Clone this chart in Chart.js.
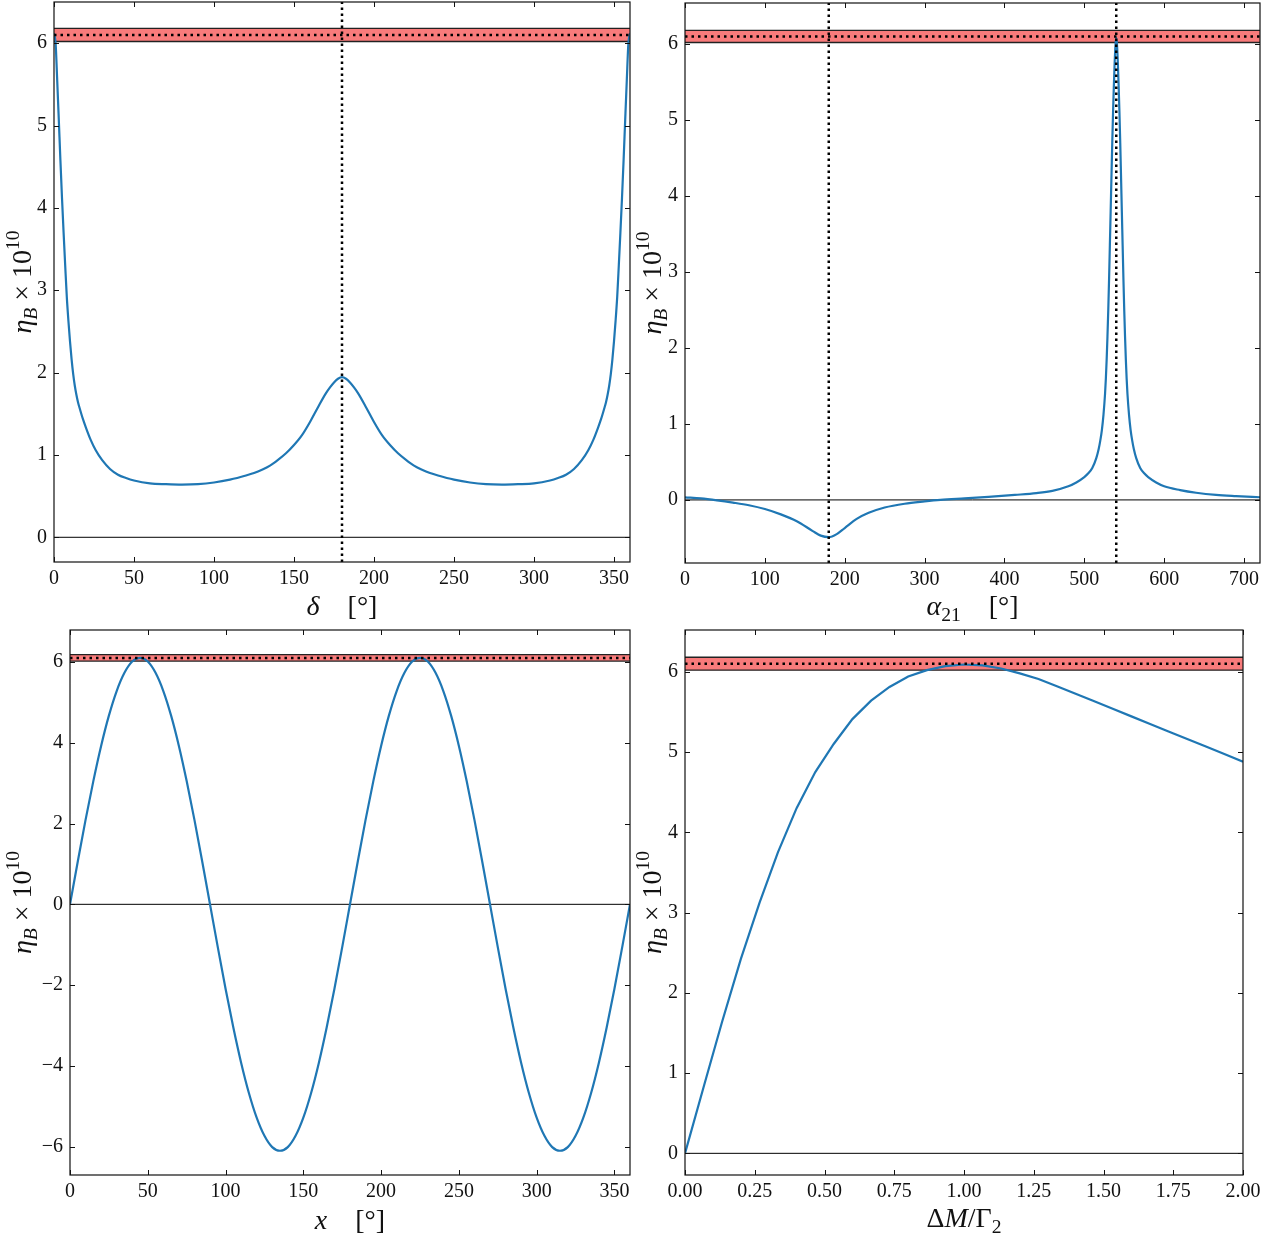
<!DOCTYPE html>
<html>
<head>
<meta charset="utf-8">
<script src="https://cdn.jsdelivr.net/npm/chart.js@4.4.1/dist/chart.umd.min.js"></script>
<style>
  html, body { margin: 0; padding: 0; background: #fff; }
  #wrap { position: relative; width: 1263px; height: 1234px; overflow: hidden; }
  #wrap canvas { position: absolute; left: 0; top: 0; }
</style>
</head>
<body>
<div id="wrap">
  <canvas id="c1" width="1263" height="1234"></canvas>
  <canvas id="c2" width="1263" height="1234"></canvas>
  <canvas id="c3" width="1263" height="1234"></canvas>
  <canvas id="c4" width="1263" height="1234"></canvas>
</div>
<script>
// observed value of eta_B x 10^10 and its band
const etaObs = 6.10;
const etaObsLow = 6.02;
const etaObsHigh = 6.18;

// top left: eta_B vs delta
const deltaDeg = [0,1,2,3,4,5,6,7,8,9,10,11,12,13,14,15,16,18,20,23,26,30,35,40,45,50,60,70,80,90,100,110,120,
  125,130,135,140,145,150,155,160,165,170,172.5,175,177.5,180,
  182.5,185,187.5,190,195,200,205,210,215,220,225,230,235,240,250,260,270,280,290,300,310,
  315,320,325,330,334,337,340,342,344,345,346,347,348,349,350,351,352,353,354,355,356,357,358,359,360];
const etaDelta = [6.12,6.0,5.55,5.07,4.58,4.12,3.7,3.3,2.92,2.63,2.38,2.16,1.98,1.84,1.73,1.64,1.57,1.44,1.33,1.18,1.06,0.94,0.83,0.76,0.72,0.69,0.655,0.645,0.64,0.645,0.665,0.70,0.75,
  0.78,0.82,0.87,0.94,1.02,1.12,1.24,1.40,1.58,1.75,1.82,1.88,1.925,1.945,
  1.925,1.88,1.82,1.75,1.58,1.40,1.24,1.12,1.02,0.94,0.87,0.82,0.78,0.75,0.70,0.665,0.645,0.64,0.645,0.655,0.69,
  0.72,0.76,0.83,0.94,1.06,1.18,1.33,1.44,1.57,1.64,1.73,1.84,1.98,2.16,2.38,2.63,2.92,3.3,3.7,4.12,4.58,5.07,5.55,6.0,6.12];
const deltaMarks = [180];

// top right: eta_B vs alpha_21
const alphaDeg = [0,20,40,60,80,100,120,140,160,170,180,190,200,215,230,250,275,300,320,350,380,413,440,460,480,490,
  500,505,510,515,518,520,522,524,526,527,528,529,530,531,532,533,534,535,536,537,538,539,540,
  541,542,543,544,545,546,547,548,549,550,551,552,553,554,556,558,560,562,565,570,575,580,590,600,620,640,665,690,720];
const etaAlpha = [0.035,0.02,-0.005,-0.035,-0.07,-0.12,-0.19,-0.28,-0.41,-0.47,-0.49,-0.45,-0.37,-0.25,-0.17,-0.10,-0.05,-0.02,0.0,0.02,0.04,0.066,0.09,0.12,0.18,0.23,
  0.30,0.35,0.42,0.55,0.67,0.78,0.92,1.12,1.4,1.6,1.85,2.15,2.5,2.9,3.35,3.8,4.25,4.7,5.1,5.45,5.75,5.98,6.08,
  5.98,5.75,5.45,5.1,4.7,4.25,3.8,3.35,2.9,2.5,2.15,1.85,1.6,1.4,1.12,0.92,0.78,0.67,0.55,0.42,0.35,0.30,0.23,0.18,0.13,0.095,0.066,0.05,0.035];
const alphaMarks = [180, 540];

// bottom left: eta_B vs x
const xDeg = [0,5,10,15,20,25,30,35,40,45,50,55,60,65,70,75,80,85,90,95,100,105,110,115,120,125,130,135,140,145,150,155,160,165,170,175,180,
  185,190,195,200,205,210,215,220,225,230,235,240,245,250,255,260,265,270,275,280,285,290,295,300,305,310,315,320,325,330,335,340,345,350,355,360];
const etaX = [0,1.06,2.09,3.05,3.92,4.67,5.28,5.73,6.01,6.10,6.01,5.73,5.28,4.67,3.92,3.05,2.09,1.06,0,-1.06,-2.09,-3.05,-3.92,-4.67,-5.28,-5.73,-6.01,-6.10,-6.01,-5.73,-5.28,-4.67,-3.92,-3.05,-2.09,-1.06,0,
  1.06,2.09,3.05,3.92,4.67,5.28,5.73,6.01,6.10,6.01,5.73,5.28,4.67,3.92,3.05,2.09,1.06,0,-1.06,-2.09,-3.05,-3.92,-4.67,-5.28,-5.73,-6.01,-6.10,-6.01,-5.73,-5.28,-4.67,-3.92,-3.05,-2.09,-1.06,0];

// bottom right: eta_B vs DeltaM/Gamma_2
const dmRatio = [0,0.067,0.133,0.2,0.267,0.333,0.4,0.467,0.533,0.6,0.667,0.733,0.8,0.867,0.933,1.0,1.067,1.133,1.2,1.267,1.333,1.4,1.467,1.533,1.6,1.667,1.733,1.8,1.867,1.933,2.0];
const etaDm = [0,0.83,1.64,2.42,3.12,3.75,4.30,4.75,5.10,5.41,5.64,5.81,5.94,6.02,6.07,6.09,6.08,6.04,5.98,5.91,5.82,5.726,5.632,5.538,5.444,5.35,5.256,5.162,5.068,4.974,4.88];

const TICK_FONT = { family: 'Liberation Serif', size: 20 };
const TITLE_SIZE = 28;
const BLUE = '#1f77b4';

const etaTitle = [
  { t: 'η', it: true },
  { t: 'B', it: true, sub: true },
  { t: ' × 10', it: false },
  { t: '10', sup: true }
];

function richFont(seg, size) {
  const s = (seg.sub || seg.sup) ? size * 0.7 : size;
  return (seg.it ? 'italic ' : '') + s + 'px "Liberation Serif"';
}

// draws a label made of italic / sub / superscript pieces, centred on (cx, cy)
function drawRich(ctx, segs, cx, cy, rot, size) {
  ctx.save();
  ctx.translate(cx, cy);
  ctx.rotate(rot);
  let total = 0;
  const widths = segs.map(seg => {
    if (seg.space) return seg.space * size;
    ctx.font = richFont(seg, size);
    return ctx.measureText(seg.t).width;
  });
  widths.forEach(w => total += w);
  let x = -total / 2;
  ctx.fillStyle = '#111';
  ctx.textBaseline = 'alphabetic';
  segs.forEach((seg, i) => {
    if (!seg.space) {
      ctx.font = richFont(seg, size);
      let dy = size * 0.33;
      if (seg.sub) dy += size * 0.22;
      if (seg.sup) dy -= size * 0.42;
      ctx.fillText(seg.t, x, dy);
    }
    x += widths[i];
  });
  ctx.restore();
}

// box round the plot, inward ticks on all four sides, axis titles
const framePlugin = {
  id: 'frame',
  afterDraw(chart, args, opts) {
    const { ctx, chartArea: a, scales } = chart;
    ctx.save();
    ctx.strokeStyle = '#111';
    ctx.lineWidth = 1.2;
    ctx.strokeRect(a.left, a.top, a.right - a.left, a.bottom - a.top);
    const len = 5;
    ctx.lineWidth = 1;
    ctx.beginPath();
    scales.x.ticks.forEach(t => {
      const px = Math.round(scales.x.getPixelForValue(t.value)) + 0.5;
      ctx.moveTo(px, a.bottom); ctx.lineTo(px, a.bottom - len);
      ctx.moveTo(px, a.top); ctx.lineTo(px, a.top + len);
    });
    scales.y.ticks.forEach(t => {
      const py = Math.round(scales.y.getPixelForValue(t.value)) + 0.5;
      ctx.moveTo(a.left, py); ctx.lineTo(a.left + len, py);
      ctx.moveTo(a.right, py); ctx.lineTo(a.right - len, py);
    });
    ctx.stroke();
    ctx.restore();
    drawRich(ctx, opts.xTitle, (a.left + a.right) / 2, a.bottom + opts.xOff, 0, TITLE_SIZE);
    drawRich(ctx, etaTitle, a.left - opts.yOff, (a.top + a.bottom) / 2, -Math.PI / 2, TITLE_SIZE);
  }
};

function pts(xs, ys) {
  return xs.map((x, i) => ({ x: x, y: ys[i] }));
}

function makePanel(id, p) {
  const datasets = [];
  // dotted central value
  datasets.push({ data: pts([p.xMin, p.xMax], [etaObs, etaObs]), borderColor: '#000', borderWidth: 2.5, borderDash: [2.5, 4], pointRadius: 0 });
  // vertical dotted marks
  p.marks.forEach(m => {
    datasets.push({ data: pts([m, m], [p.yMin, p.yMax]), borderColor: '#000', borderWidth: 2.5, borderDash: [2.5, 3.5], pointRadius: 0 });
  });
  // the curve
  datasets.push({ data: pts(p.xs, p.ys), borderColor: BLUE, borderWidth: 2.2, pointRadius: 0,
    cubicInterpolationMode: p.smooth ? 'monotone' : 'default', tension: 0 });
  // zero line
  datasets.push({ data: pts([p.xMin, p.xMax], [0, 0]), borderColor: '#000', borderWidth: 1, pointRadius: 0 });
  // observed band
  datasets.push({ data: pts([p.xMin, p.xMax], [etaObsLow, etaObsLow]), borderColor: '#222', borderWidth: 1.4, pointRadius: 0 });
  datasets.push({ data: pts([p.xMin, p.xMax], [etaObsHigh, etaObsHigh]), borderColor: '#222', borderWidth: 1.4, pointRadius: 0,
    fill: '-1', backgroundColor: 'rgba(245,60,60,0.68)' });

  new Chart(document.getElementById(id), {
    type: 'line',
    data: { datasets: datasets },
    options: {
      responsive: false,
      animation: false,
      events: [],
      layout: { padding: p.pad },
      plugins: {
        legend: { display: false },
        tooltip: { enabled: false },
        frame: { xTitle: p.xTitle, xOff: p.xOff, yOff: p.yOff }
      },
      scales: {
        x: {
          type: 'linear', min: p.xMin, max: p.xMax,
          grid: { display: false, drawTicks: false },
          border: { display: false },
          ticks: { stepSize: p.xStep, includeBounds: false, font: TICK_FONT, color: '#111', padding: 5,
            maxRotation: 0, autoSkip: false, callback: p.xFmt || (v => String(v)) },
          afterFit: s => { s.height = 40; s.paddingLeft = 0; s.paddingRight = 0; }
        },
        y: {
          type: 'linear', min: p.yMin, max: p.yMax,
          grid: { display: false, drawTicks: false },
          border: { display: false },
          ticks: { stepSize: p.yStep, includeBounds: false, font: TICK_FONT, color: '#111', padding: 7,
            callback: v => (v < 0 ? '\u2212' + Math.abs(v) : String(v)) },
          afterFit: s => { s.width = 50; s.paddingTop = 0; s.paddingBottom = 0; }
        }
      }
    },
    plugins: [framePlugin]
  });
}

const degree = [{ space: 1 }, { t: '[°]' }];

makePanel('c1', {
  xs: deltaDeg, ys: etaDelta, marks: deltaMarks, smooth: true,
  xMin: 0, xMax: 360, xStep: 50, yMin: -0.3, yMax: 6.5, yStep: 1,
  pad: { left: 4, top: 2, right: 633, bottom: 632 },
  xTitle: [{ t: 'δ', it: true }].concat(degree), xOff: 44, yOff: 32
});

makePanel('c2', {
  xs: alphaDeg, ys: etaAlpha, marks: alphaMarks, smooth: true,
  xMin: 0, xMax: 720, xStep: 100, yMin: -0.83, yMax: 6.54, yStep: 1,
  pad: { left: 635, top: 3, right: 3, bottom: 631 },
  xTitle: [{ t: 'α', it: true }, { t: '21', sub: true }].concat(degree), xOff: 43, yOff: 33
});

makePanel('c3', {
  xs: xDeg, ys: etaX, marks: [], smooth: true,
  xMin: 0, xMax: 360, xStep: 50, yMin: -6.7, yMax: 6.79, yStep: 2,
  pad: { left: 20, top: 630, right: 633, bottom: 19 },
  xTitle: [{ t: 'x', it: true }].concat(degree), xOff: 45, yOff: 48
});

makePanel('c4', {
  xs: dmRatio, ys: etaDm, marks: [], smooth: false,
  xMin: 0, xMax: 2, xStep: 0.25, yMin: -0.27, yMax: 6.52, yStep: 1,
  pad: { left: 635, top: 630, right: 20, bottom: 19 },
  xFmt: v => v.toFixed(2),
  xTitle: [{ t: 'Δ' }, { t: 'M', it: true }, { t: '/Γ' }, { t: '2', sub: true }], xOff: 43, yOff: 33
});
</script>
</body>
</html>
